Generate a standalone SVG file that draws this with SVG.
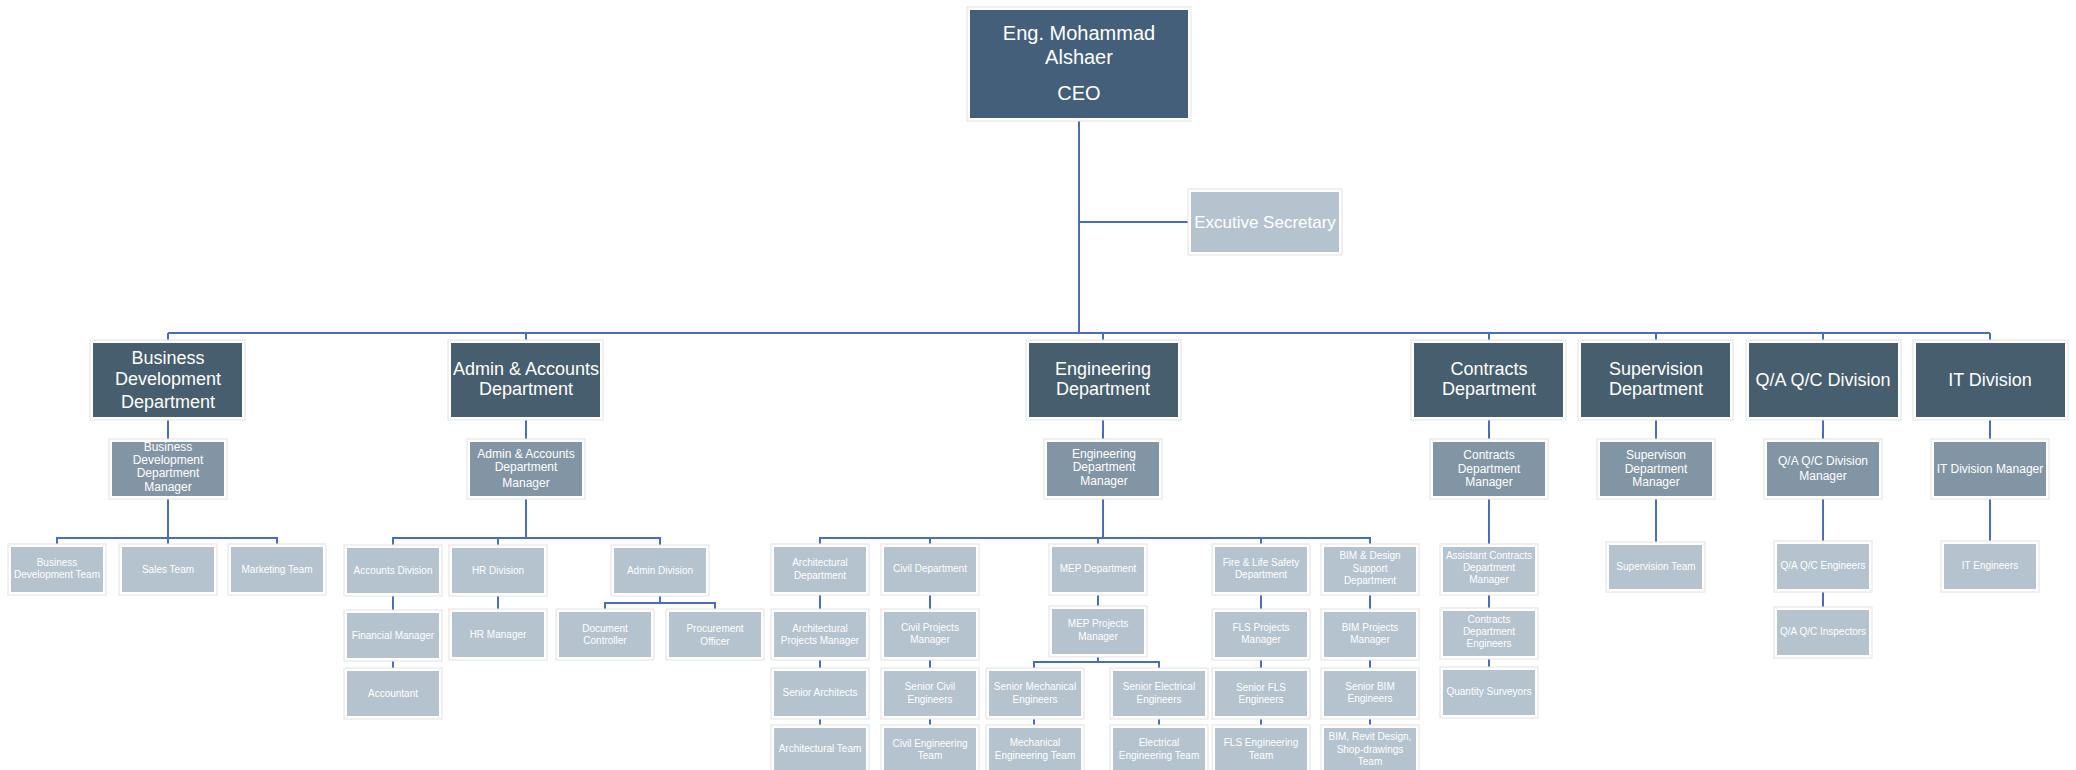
<svg xmlns="http://www.w3.org/2000/svg" width="2076" height="770" viewBox="0 0 2076 770">
<style>
.bg{fill:#ffffff}
.fr{fill:#ffffff;stroke:#e2e2e2;stroke-width:1}
.ceo{fill:#435F7A}
.l1{fill:#465E6D}
.l2{fill:#8295A5}
.l3{fill:#B5C3CE}
text{font-family:"Liberation Sans",Arial,sans-serif;fill:#ffffff;text-anchor:middle}
.tc{font-size:20px}
.t1{font-size:18px}
.t2{font-size:12px}
.t3{font-size:10px}
.te{font-size:17px}
.cn{fill:none;stroke:#4A6FB8;stroke-width:2}
</style>
<rect class="bg" x="0" y="0" width="2076" height="770"/>

<g id="connectors">
<path class="cn" d="M1079 118V333M1079 222H1191M168 333H1990"/>
<path class="cn" d="M168 333V343M526 333V343M1103 333V343M1489 333V343M1656 333V343M1823 333V343M1990 333V343"/>
<path class="cn" d="M168 417V442M526 417V442M1103 417V442M1489 417V442M1656 417V442M1823 417V442M1990 417V442"/>
<path class="cn" d="M168 496V547M57 547V538H277V547"/>
<path class="cn" d="M526 496V538M393 548V538H660V548M498 538V548M393 592V613M393 657V671M498 592V612M660 592V603M605 612V603H715V612"/>
<path class="cn" d="M1103 496V538M820 547V538H1370V547M930 538V547M1098 538V547M1261 538V547"/>
<path class="cn" d="M820 592V612M820 657V671M820 716V728M930 592V612M930 657V671M930 716V728M1261 592V612M1261 657V671M1261 716V728M1370 592V612M1370 657V671M1370 716V728"/>
<path class="cn" d="M1098 592V609M1098 653V662M1034 671V662H1159V671M1034 716V728M1159 716V728"/>
<path class="cn" d="M1489 496V547M1489 591V611M1489 655V670M1656 496V545M1823 496V544M1823 589V610M1990 496V544"/>
</g>

<g id="ceo"><rect class="fr" x="967" y="7" width="224" height="114"/><rect class="ceo" x="970" y="10" width="218" height="108"/>
<text class="tc"><tspan x="1079" y="40">Eng. Mohammad</tspan><tspan x="1079" y="64">Alshaer</tspan><tspan x="1079" y="100">CEO</tspan></text></g>

<g id="exec-secretary"><rect class="fr" x="1188" y="189" width="154" height="66"/><rect class="l3" x="1191" y="192" width="148" height="60"/>
<text class="te" x="1265" y="228">Excutive Secretary</text></g>

<!-- Level 1 -->
<g id="bd-dept"><rect class="fr" x="90" y="340" width="155" height="80"/><rect class="l1" x="93" y="343" width="149" height="74"/>
<text class="t1"><tspan x="168" y="364">Business</tspan><tspan x="168" y="385">Development</tspan><tspan x="168" y="408">Department</tspan></text></g>
<g id="admin-dept"><rect class="fr" x="448" y="340" width="155" height="80"/><rect class="l1" x="451" y="343" width="149" height="74"/>
<text class="t1"><tspan x="526" y="375">Admin &amp; Accounts</tspan><tspan x="526" y="395">Department</tspan></text></g>
<g id="eng-dept"><rect class="fr" x="1026" y="340" width="155" height="80"/><rect class="l1" x="1029" y="343" width="149" height="74"/>
<text class="t1"><tspan x="1103" y="375">Engineering</tspan><tspan x="1103" y="395">Department</tspan></text></g>
<g id="contracts-dept"><rect class="fr" x="1411" y="340" width="155" height="80"/><rect class="l1" x="1414" y="343" width="149" height="74"/>
<text class="t1"><tspan x="1489" y="375">Contracts</tspan><tspan x="1489" y="395">Department</tspan></text></g>
<g id="supervision-dept"><rect class="fr" x="1578" y="340" width="155" height="80"/><rect class="l1" x="1581" y="343" width="149" height="74"/>
<text class="t1"><tspan x="1656" y="375">Supervision</tspan><tspan x="1656" y="395">Department</tspan></text></g>
<g id="qaqc-div"><rect class="fr" x="1746" y="340" width="155" height="80"/><rect class="l1" x="1749" y="343" width="149" height="74"/>
<text class="t1" x="1823" y="386">Q/A Q/C Division</text></g>
<g id="it-div"><rect class="fr" x="1913" y="340" width="155" height="80"/><rect class="l1" x="1916" y="343" width="149" height="74"/>
<text class="t1" x="1990" y="386">IT Division</text></g>

<!-- Level 2 -->
<g id="bd-mgr"><rect class="fr" x="109" y="439" width="118" height="60"/><rect class="l2" x="112" y="442" width="112" height="54"/>
<text class="t2"><tspan x="168" y="451">Business</tspan><tspan x="168" y="464">Development</tspan><tspan x="168" y="477">Department</tspan><tspan x="168" y="491">Manager</tspan></text></g>
<g id="admin-mgr"><rect class="fr" x="467" y="439" width="118" height="60"/><rect class="l2" x="470" y="442" width="112" height="54"/>
<text class="t2"><tspan x="526" y="458">Admin &amp; Accounts</tspan><tspan x="526" y="471">Department</tspan><tspan x="526" y="487">Manager</tspan></text></g>
<g id="eng-mgr"><rect class="fr" x="1044" y="439" width="118" height="60"/><rect class="l2" x="1047" y="442" width="112" height="54"/>
<text class="t2"><tspan x="1104" y="458">Engineering</tspan><tspan x="1104" y="471">Department</tspan><tspan x="1104" y="485">Manager</tspan></text></g>
<g id="contracts-mgr"><rect class="fr" x="1430" y="439" width="118" height="60"/><rect class="l2" x="1433" y="442" width="112" height="54"/>
<text class="t2"><tspan x="1489" y="459">Contracts</tspan><tspan x="1489" y="473">Department</tspan><tspan x="1489" y="486">Manager</tspan></text></g>
<g id="supervision-mgr"><rect class="fr" x="1597" y="439" width="118" height="60"/><rect class="l2" x="1600" y="442" width="112" height="54"/>
<text class="t2"><tspan x="1656" y="459">Supervison</tspan><tspan x="1656" y="473">Department</tspan><tspan x="1656" y="486">Manager</tspan></text></g>
<g id="qaqc-mgr"><rect class="fr" x="1764" y="439" width="118" height="60"/><rect class="l2" x="1767" y="442" width="112" height="54"/>
<text class="t2"><tspan x="1823" y="465">Q/A Q/C Division</tspan><tspan x="1823" y="480">Manager</tspan></text></g>
<g id="it-mgr"><rect class="fr" x="1931" y="439" width="118" height="60"/><rect class="l2" x="1934" y="442" width="112" height="54"/>
<text class="t2" x="1990" y="473">IT Division Manager</text></g>

<!-- Business Development children -->
<g id="bd-team"><rect class="fr" x="8" y="544" width="98" height="51"/><rect class="l3" x="11" y="547" width="92" height="45"/>
<text class="t3"><tspan x="57" y="566">Business</tspan><tspan x="57" y="578">Development Team</tspan></text></g>
<g id="sales-team"><rect class="fr" x="119" y="544" width="98" height="51"/><rect class="l3" x="122" y="547" width="92" height="45"/>
<text class="t3" x="168" y="573">Sales Team</text></g>
<g id="marketing-team"><rect class="fr" x="228" y="544" width="98" height="51"/><rect class="l3" x="231" y="547" width="92" height="45"/>
<text class="t3" x="277" y="573">Marketing Team</text></g>

<!-- Admin children -->
<g id="accounts-div"><rect class="fr" x="344" y="545" width="98" height="51"/><rect class="l3" x="347" y="548" width="92" height="45"/>
<text class="t3" x="393" y="574">Accounts Division</text></g>
<g id="hr-div"><rect class="fr" x="449" y="545" width="98" height="51"/><rect class="l3" x="452" y="548" width="92" height="45"/>
<text class="t3" x="498" y="574">HR Division</text></g>
<g id="admin-div"><rect class="fr" x="611" y="545" width="98" height="51"/><rect class="l3" x="614" y="548" width="92" height="45"/>
<text class="t3" x="660" y="574">Admin Division</text></g>
<g id="financial-mgr"><rect class="fr" x="344" y="610" width="98" height="51"/><rect class="l3" x="347" y="613" width="92" height="45"/>
<text class="t3" x="393" y="639">Financial Manager</text></g>
<g id="accountant"><rect class="fr" x="344" y="668" width="98" height="51"/><rect class="l3" x="347" y="671" width="92" height="45"/>
<text class="t3" x="393" y="697">Accountant</text></g>
<g id="hr-mgr"><rect class="fr" x="449" y="609" width="98" height="51"/><rect class="l3" x="452" y="612" width="92" height="45"/>
<text class="t3" x="498" y="638">HR Manager</text></g>
<g id="doc-controller"><rect class="fr" x="556" y="609" width="98" height="51"/><rect class="l3" x="559" y="612" width="92" height="45"/>
<text class="t3"><tspan x="605" y="632">Document</tspan><tspan x="605" y="644">Controller</tspan></text></g>
<g id="procurement"><rect class="fr" x="666" y="609" width="98" height="51"/><rect class="l3" x="669" y="612" width="92" height="45"/>
<text class="t3"><tspan x="715" y="632">Procurement</tspan><tspan x="715" y="645">Officer</tspan></text></g>

<!-- Engineering row 1 -->
<g id="arch-dept"><rect class="fr" x="771" y="544" width="98" height="51"/><rect class="l3" x="774" y="547" width="92" height="45"/>
<text class="t3"><tspan x="820" y="566">Architectural</tspan><tspan x="820" y="579">Department</tspan></text></g>
<g id="civil-dept"><rect class="fr" x="881" y="544" width="98" height="51"/><rect class="l3" x="884" y="547" width="92" height="45"/>
<text class="t3" x="930" y="572">Civil Department</text></g>
<g id="mep-dept"><rect class="fr" x="1049" y="544" width="98" height="51"/><rect class="l3" x="1052" y="547" width="92" height="45"/>
<text class="t3" x="1098" y="572">MEP Department</text></g>
<g id="fls-dept"><rect class="fr" x="1212" y="544" width="98" height="51"/><rect class="l3" x="1215" y="547" width="92" height="45"/>
<text class="t3"><tspan x="1261" y="566">Fire &amp; Life Safety</tspan><tspan x="1261" y="578">Department</tspan></text></g>
<g id="bim-dept"><rect class="fr" x="1321" y="544" width="98" height="51"/><rect class="l3" x="1324" y="547" width="92" height="45"/>
<text class="t3"><tspan x="1370" y="559">BIM &amp; Design</tspan><tspan x="1370" y="572">Support</tspan><tspan x="1370" y="584">Department</tspan></text></g>

<!-- Engineering row 2 -->
<g id="arch-pm"><rect class="fr" x="771" y="609" width="98" height="51"/><rect class="l3" x="774" y="612" width="92" height="45"/>
<text class="t3"><tspan x="820" y="632">Architectural</tspan><tspan x="820" y="644">Projects Manager</tspan></text></g>
<g id="civil-pm"><rect class="fr" x="881" y="609" width="98" height="51"/><rect class="l3" x="884" y="612" width="92" height="45"/>
<text class="t3"><tspan x="930" y="631">Civil Projects</tspan><tspan x="930" y="643">Manager</tspan></text></g>
<g id="mep-pm"><rect class="fr" x="1049" y="606" width="98" height="51"/><rect class="l3" x="1052" y="609" width="92" height="45"/>
<text class="t3"><tspan x="1098" y="627">MEP Projects</tspan><tspan x="1098" y="640">Manager</tspan></text></g>
<g id="fls-pm"><rect class="fr" x="1212" y="609" width="98" height="51"/><rect class="l3" x="1215" y="612" width="92" height="45"/>
<text class="t3"><tspan x="1261" y="631">FLS Projects</tspan><tspan x="1261" y="643">Manager</tspan></text></g>
<g id="bim-pm"><rect class="fr" x="1321" y="609" width="98" height="51"/><rect class="l3" x="1324" y="612" width="92" height="45"/>
<text class="t3"><tspan x="1370" y="631">BIM Projects</tspan><tspan x="1370" y="643">Manager</tspan></text></g>

<!-- Engineering row 3 -->
<g id="senior-arch"><rect class="fr" x="771" y="668" width="98" height="51"/><rect class="l3" x="774" y="671" width="92" height="45"/>
<text class="t3" x="820" y="696">Senior Architects</text></g>
<g id="senior-civil"><rect class="fr" x="881" y="668" width="98" height="51"/><rect class="l3" x="884" y="671" width="92" height="45"/>
<text class="t3"><tspan x="930" y="690">Senior Civil</tspan><tspan x="930" y="703">Engineers</tspan></text></g>
<g id="senior-mech"><rect class="fr" x="986" y="668" width="98" height="51"/><rect class="l3" x="989" y="671" width="92" height="45"/>
<text class="t3"><tspan x="1035" y="690">Senior Mechanical</tspan><tspan x="1035" y="703">Engineers</tspan></text></g>
<g id="senior-elec"><rect class="fr" x="1110" y="668" width="98" height="51"/><rect class="l3" x="1113" y="671" width="92" height="45"/>
<text class="t3"><tspan x="1159" y="690">Senior Electrical</tspan><tspan x="1159" y="703">Engineers</tspan></text></g>
<g id="senior-fls"><rect class="fr" x="1212" y="668" width="98" height="51"/><rect class="l3" x="1215" y="671" width="92" height="45"/>
<text class="t3"><tspan x="1261" y="691">Senior FLS</tspan><tspan x="1261" y="703">Engineers</tspan></text></g>
<g id="senior-bim"><rect class="fr" x="1321" y="668" width="98" height="51"/><rect class="l3" x="1324" y="671" width="92" height="45"/>
<text class="t3"><tspan x="1370" y="690">Senior BIM</tspan><tspan x="1370" y="702">Engineers</tspan></text></g>

<!-- Engineering row 4 -->
<g id="arch-team"><rect class="fr" x="771" y="725" width="98" height="51"/><rect class="l3" x="774" y="728" width="92" height="45"/>
<text class="t3" x="820" y="752">Architectural Team</text></g>
<g id="civil-team"><rect class="fr" x="881" y="725" width="98" height="51"/><rect class="l3" x="884" y="728" width="92" height="45"/>
<text class="t3"><tspan x="930" y="747">Civil Engineering</tspan><tspan x="930" y="759">Team</tspan></text></g>
<g id="mech-team"><rect class="fr" x="986" y="725" width="98" height="51"/><rect class="l3" x="989" y="728" width="92" height="45"/>
<text class="t3"><tspan x="1035" y="746">Mechanical</tspan><tspan x="1035" y="759">Engineering Team</tspan></text></g>
<g id="elec-team"><rect class="fr" x="1110" y="725" width="98" height="51"/><rect class="l3" x="1113" y="728" width="92" height="45"/>
<text class="t3"><tspan x="1159" y="746">Electrical</tspan><tspan x="1159" y="759">Engineering Team</tspan></text></g>
<g id="fls-team"><rect class="fr" x="1212" y="725" width="98" height="51"/><rect class="l3" x="1215" y="728" width="92" height="45"/>
<text class="t3"><tspan x="1261" y="746">FLS Engineering</tspan><tspan x="1261" y="759">Team</tspan></text></g>
<g id="bim-team"><rect class="fr" x="1321" y="725" width="98" height="51"/><rect class="l3" x="1324" y="728" width="92" height="45"/>
<text class="t3"><tspan x="1370" y="740">BIM, Revit Design,</tspan><tspan x="1370" y="753">Shop-drawings</tspan><tspan x="1370" y="765">Team</tspan></text></g>

<!-- Contracts children -->
<g id="asst-contracts"><rect class="fr" x="1440" y="544" width="98" height="51"/><rect class="l3" x="1443" y="547" width="92" height="45"/>
<text class="t3"><tspan x="1489" y="559">Assistant Contracts</tspan><tspan x="1489" y="571">Department</tspan><tspan x="1489" y="583">Manager</tspan></text></g>
<g id="contracts-eng"><rect class="fr" x="1440" y="608" width="98" height="51"/><rect class="l3" x="1443" y="611" width="92" height="45"/>
<text class="t3"><tspan x="1489" y="623">Contracts</tspan><tspan x="1489" y="635">Department</tspan><tspan x="1489" y="647">Engineers</tspan></text></g>
<g id="quantity-surveyors"><rect class="fr" x="1440" y="667" width="98" height="51"/><rect class="l3" x="1443" y="670" width="92" height="45"/>
<text class="t3" x="1489" y="695">Quantity Surveyors</text></g>

<!-- Supervision / QAQC / IT children -->
<g id="supervision-team"><rect class="fr" x="1606" y="542" width="99" height="50"/><rect class="l3" x="1609" y="545" width="93" height="44"/>
<text class="t3" x="1656" y="570">Supervision Team</text></g>
<g id="qaqc-eng"><rect class="fr" x="1774" y="541" width="98" height="51"/><rect class="l3" x="1777" y="544" width="92" height="45"/>
<text class="t3" x="1823" y="569">Q/A Q/C Engineers</text></g>
<g id="qaqc-insp"><rect class="fr" x="1774" y="607" width="98" height="51"/><rect class="l3" x="1777" y="610" width="92" height="45"/>
<text class="t3" x="1823" y="635">Q/A Q/C Inspectors</text></g>
<g id="it-eng"><rect class="fr" x="1941" y="541" width="98" height="51"/><rect class="l3" x="1944" y="544" width="92" height="45"/>
<text class="t3" x="1990" y="569">IT Engineers</text></g>
</svg>
